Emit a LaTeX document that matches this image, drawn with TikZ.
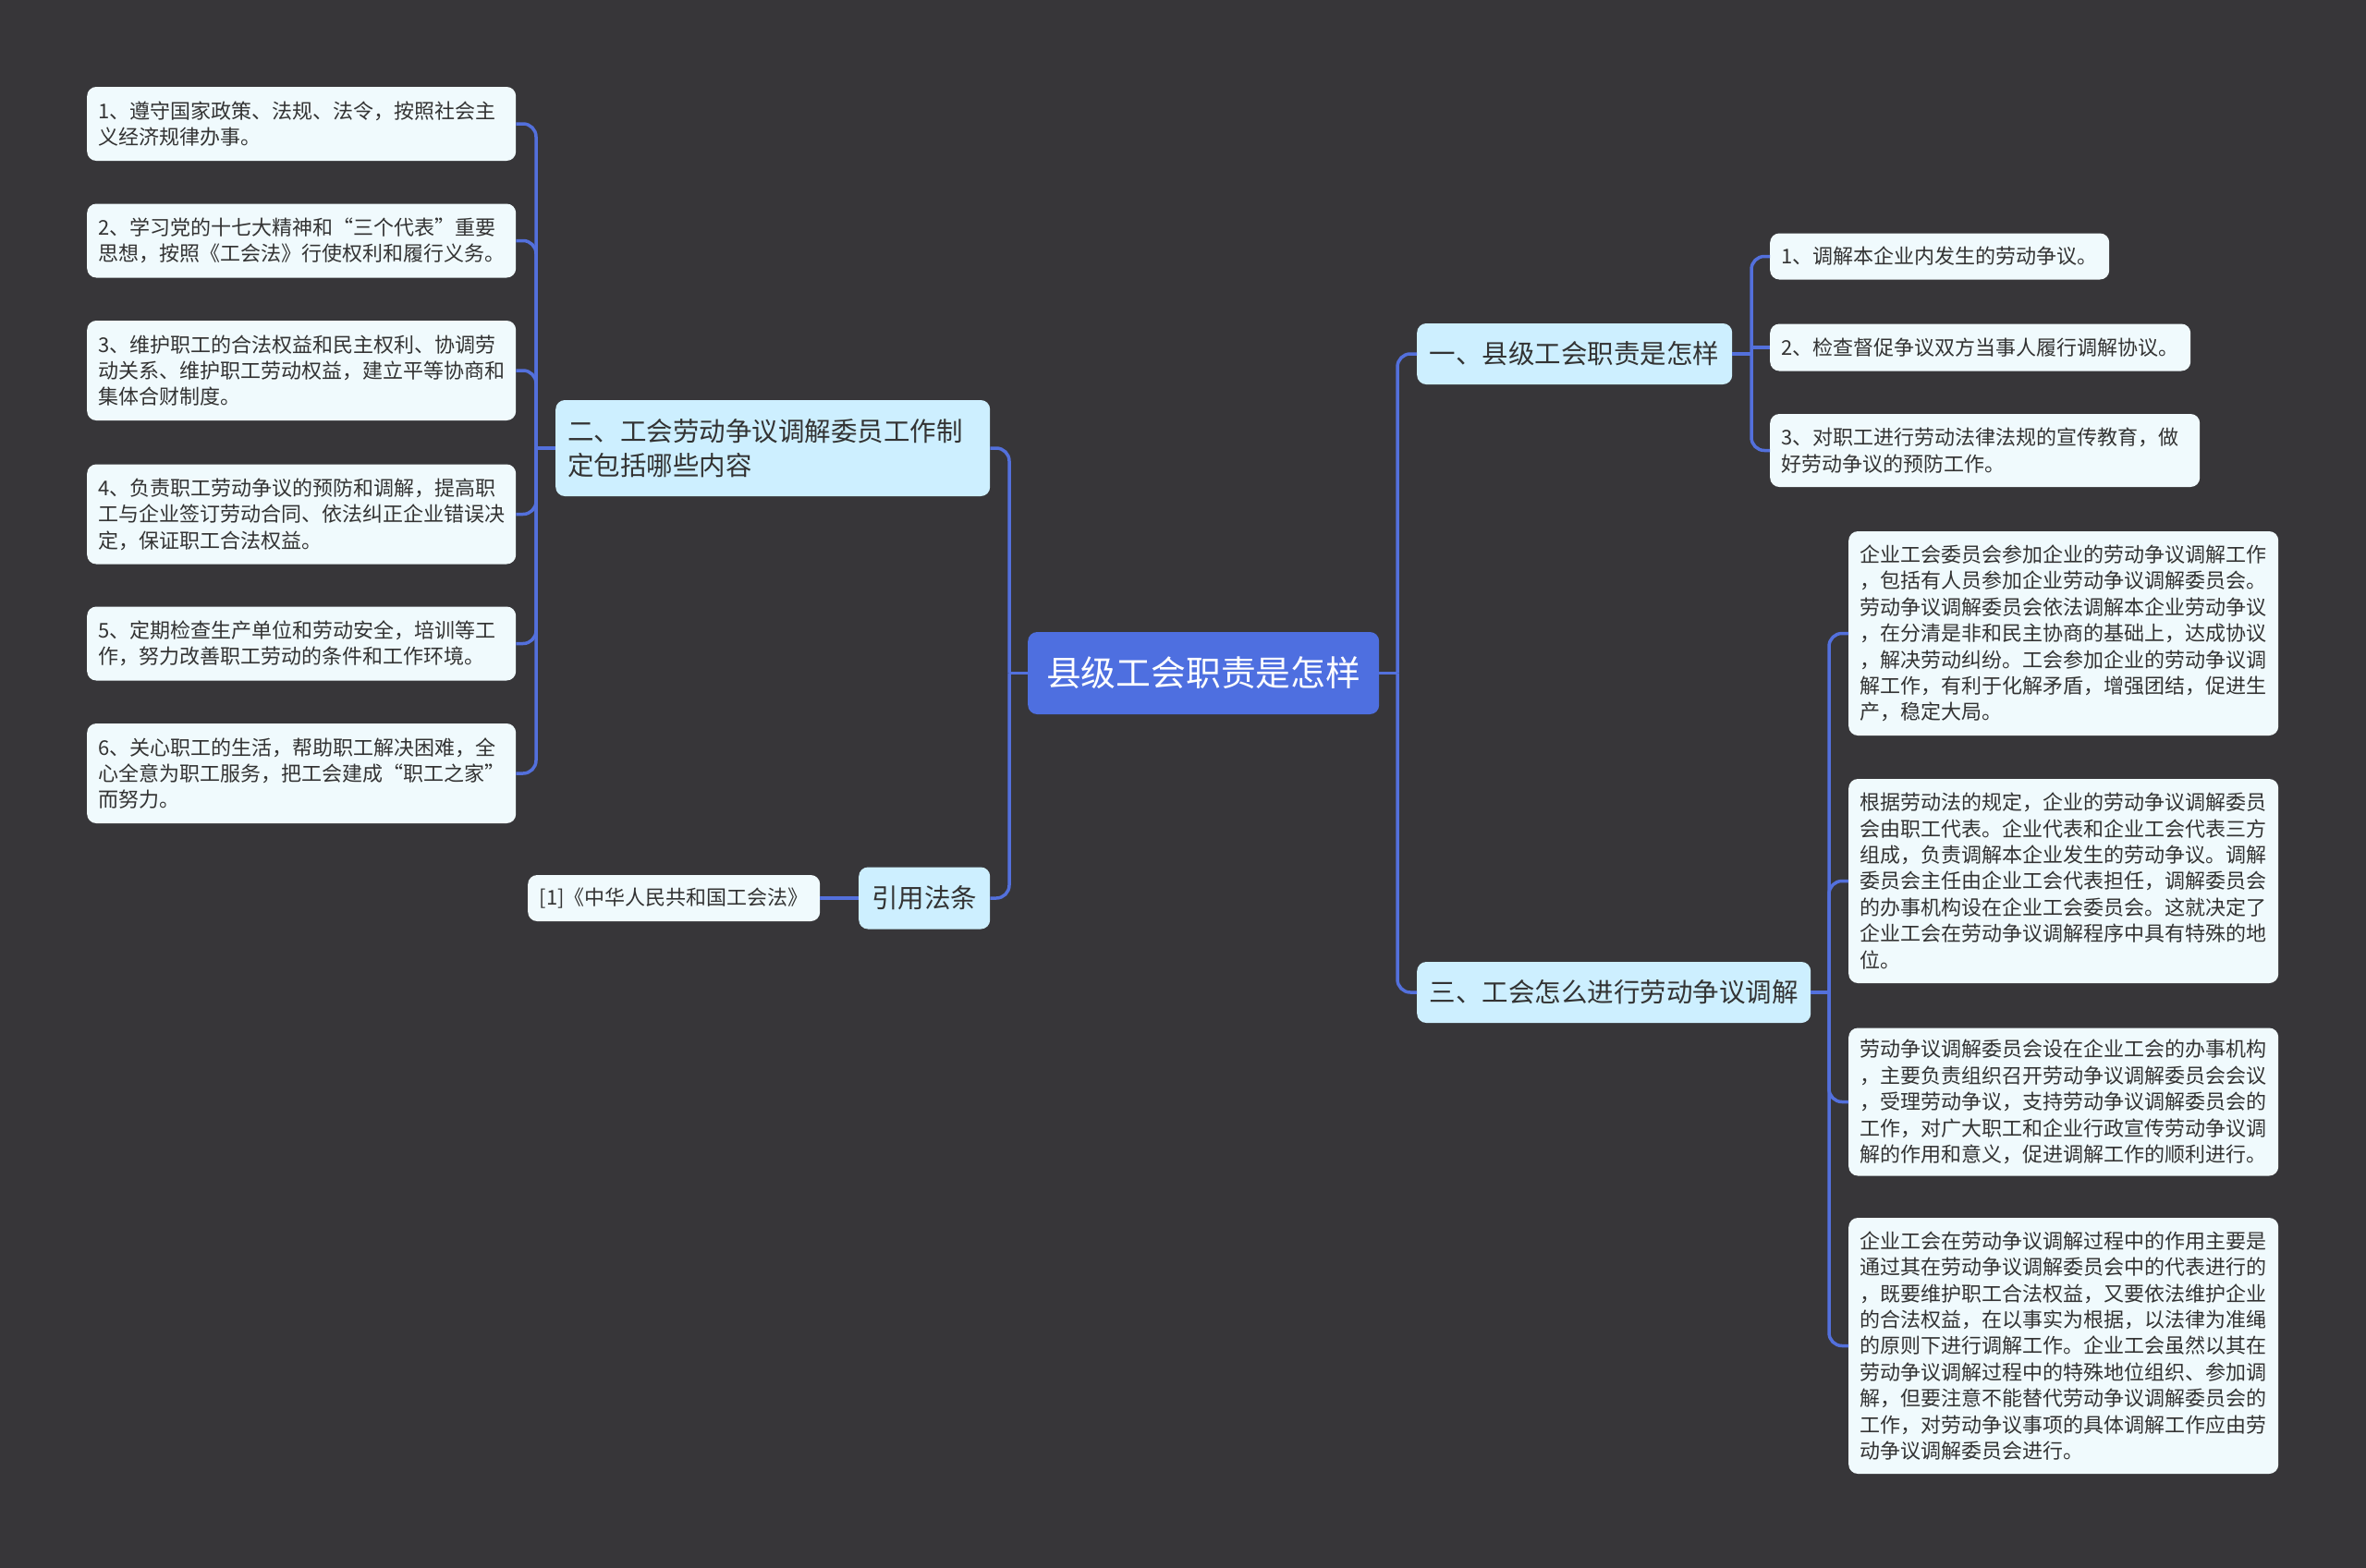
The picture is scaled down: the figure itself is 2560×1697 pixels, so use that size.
\documentclass[tikz,border=0pt]{standalone}
\usepackage{fontspec}
\setmainfont{Noto Sans CJK SC}
\definecolor{bgc}{HTML}{373639}
\definecolor{linec}{HTML}{5370DC}
\definecolor{rootc}{HTML}{4E6FE0}
\definecolor{topicc}{HTML}{CDEFFF}
\definecolor{leafc}{HTML}{F0FAFD}
\definecolor{txt}{HTML}{333333}
\begin{document}
\begin{tikzpicture}[x=1pt,y=-1pt,
  conn/.style={draw=linec, line width=3.5pt, rounded corners=14pt},
  leaf/.style={fill=leafc, rounded corners=10pt, inner xsep=12pt, inner ysep=0pt,
    align=left, anchor=west, text=txt, font=\fontsize{22}{28.4}\selectfont},
  topic/.style={fill=topicc, rounded corners=10pt, inner xsep=13pt, inner ysep=0pt,
    anchor=west, text=txt, font=\fontsize{28.5}{37.5}\selectfont},
  rootbox/.style={fill=rootc, rounded corners=10pt, inner sep=0pt, anchor=west,
    text=white, font=\fontsize{37.8}{44}\selectfont}
]
\fill[bgc] (0,0) rectangle (2560,1697);
\useasboundingbox (0,0) rectangle (2560,1697);

% root
\node[rootbox, minimum width=380pt, minimum height=89pt] (root) at (1112,728.5) {县级工会职责是怎样};

% left side
\node[topic, text width=444pt, minimum height=104pt, align=left] (n2) at (601,485)
  {二、工会劳动争议调解委员工作制\\定包括哪些内容};
\node[topic, minimum width=142pt, minimum height=67pt, inner xsep=0pt, align=center] (cite) at (929,972) {引用法条};
\node[leaf, minimum width=316pt, minimum height=50pt, inner xsep=0pt, align=center] (ref) at (571,972) {[1]《中华人民共和国工会法》};

\node[leaf, text width=440pt, minimum height=80pt] (l1) at (94,134)
  {1、遵守国家政策、法规、法令，按照社会主\\义经济规律办事。};
\node[leaf, text width=440pt, minimum height=80pt] (l2) at (94,260.5)
  {2、学习党的十七大精神和“三个代表”重要\\思想，按照《工会法》行使权利和履行义务。};
\node[leaf, text width=440pt, minimum height=108pt] (l3) at (94,401)
  {3、维护职工的合法权益和民主权利、协调劳\\动关系、维护职工劳动权益，建立平等协商和\\集体合财制度。};
\node[leaf, text width=440pt, minimum height=108pt] (l4) at (94,556.5)
  {4、负责职工劳动争议的预防和调解，提高职\\工与企业签订劳动合同、依法纠正企业错误决\\定，保证职工合法权益。};
\node[leaf, text width=440pt, minimum height=80pt] (l5) at (94,696.5)
  {5、定期检查生产单位和劳动安全，培训等工\\作，努力改善职工劳动的条件和工作环境。};
\node[leaf, text width=440pt, minimum height=108pt] (l6) at (94,837)
  {6、关心职工的生活，帮助职工解决困难，全\\心全意为职工服务，把工会建成“职工之家”\\而努力。};

% right side
\node[topic, minimum width=341pt, minimum height=66pt, inner xsep=0pt, align=center] (n1) at (1533,383) {一、县级工会职责是怎样};
\node[topic, minimum width=426pt, minimum height=66pt, inner xsep=0pt, align=center] (n3) at (1533,1074) {三、工会怎么进行劳动争议调解};

\node[leaf, text width=343pt, minimum height=50pt] (r1) at (1915,277.5)
  {1、调解本企业内发生的劳动争议。};
\node[leaf, text width=431pt, minimum height=51pt] (r2) at (1915,376)
  {2、检查督促争议双方当事人履行调解协议。};
\node[leaf, text width=441pt, minimum height=79pt] (r3) at (1915,487.5)
  {3、对职工进行劳动法律法规的宣传教育，做\\好劳动争议的预防工作。};

\node[leaf, text width=441pt, minimum height=221pt] (a1) at (2000,685.5)
  {企业工会委员会参加企业的劳动争议调解工作\\，包括有人员参加企业劳动争议调解委员会。\\劳动争议调解委员会依法调解本企业劳动争议\\，在分清是非和民主协商的基础上，达成协议\\，解决劳动纠纷。工会参加企业的劳动争议调\\解工作，有利于化解矛盾，增强团结，促进生\\产，稳定大局。};
\node[leaf, text width=441pt, minimum height=221pt] (a2) at (2000,953.5)
  {根据劳动法的规定，企业的劳动争议调解委员\\会由职工代表。企业代表和企业工会代表三方\\组成，负责调解本企业发生的劳动争议。调解\\委员会主任由企业工会代表担任，调解委员会\\的办事机构设在企业工会委员会。这就决定了\\企业工会在劳动争议调解程序中具有特殊的地\\位。};
\node[leaf, text width=441pt, minimum height=160pt] (a3) at (2000,1192.5)
  {劳动争议调解委员会设在企业工会的办事机构\\，主要负责组织召开劳动争议调解委员会会议\\，受理劳动争议，支持劳动争议调解委员会的\\工作，对广大职工和企业行政宣传劳动争议调\\解的作用和意义，促进调解工作的顺利进行。};
\node[leaf, text width=441pt, minimum height=277pt] (a4) at (2000,1456.5)
  {企业工会在劳动争议调解过程中的作用主要是\\通过其在劳动争议调解委员会中的代表进行的\\，既要维护职工合法权益，又要依法维护企业\\的合法权益，在以事实为根据，以法律为准绳\\的原则下进行调解工作。企业工会虽然以其在\\劳动争议调解过程中的特殊地位组织、参加调\\解，但要注意不能替代劳动争议调解委员会的\\工作，对劳动争议事项的具体调解工作应由劳\\动争议调解委员会进行。};

% connectors
\coordinate (jC) at (1092,728.5);
\coordinate (jR) at (1512,728.5);
\coordinate (jL) at (580,485);
\coordinate (j1) at (1895,383);
\coordinate (j3) at (1979,1074);

\begin{scope}[on background layer/.style={}]
\draw[conn] (root.west) -- (jC);
\draw[conn] (jC) |- (n2.east);
\draw[conn] (jC) |- (cite.east);
\draw[conn] (cite.west) -- (ref.east);
\draw[conn] (n2.west) -- (jL);
\foreach \c in {l1,l2,l3,l4,l5,l6} \draw[conn] (jL) |- (\c.east);
\draw[conn] (root.east) -- (jR);
\draw[conn] (jR) |- (n1.west);
\draw[conn] (jR) |- (n3.west);
\draw[conn] (n1.east) -- (j1);
\draw[conn] (j1) |- (r1.west);
\draw[conn] (r2.west -| j1) -- (r2.west);
\draw[conn] (j1) |- (r3.west);
\draw[conn] (n3.east) -- (j3);
\foreach \c in {a1,a2,a3,a4} \draw[conn] (j3) |- (\c.west);
\end{scope}
\end{tikzpicture}
\end{document}
